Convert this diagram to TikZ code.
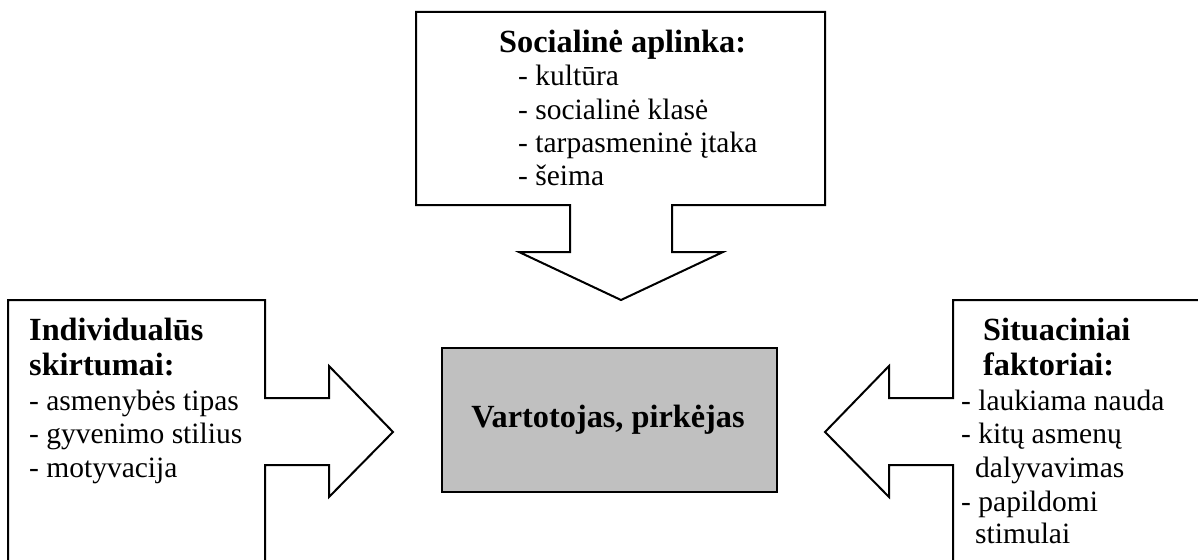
\documentclass[tikz,border=0pt]{standalone}
\usepackage{fontspec}
\setmainfont{Liberation Serif}
\begin{document}
\begin{tikzpicture}[x=1pt,y=-1pt,
  outline/.style={draw=black,line width=2pt,line join=miter},
  head/.style={font=\fontsize{32.3}{35}\selectfont\bfseries,anchor=base west,inner sep=0pt},
  item/.style={font=\fontsize{29.5}{33}\selectfont,anchor=base west,inner sep=0pt}]
\useasboundingbox (0,0) rectangle (1198,559);
\clip (0,0) rectangle (1198,559);

% top callout: social environment, arrow pointing down
\draw[outline] (416,12) -- (825,12) -- (825,205) -- (672,205) -- (672,252)
  -- (723,252) -- (621,300) -- (519,252) -- (570,252) -- (570,205)
  -- (416,205) -- cycle;
\node[head] (soc) at (499,53) {Socialinė aplinka:};
\node[item] (s1) at (518,86) {- kultūra};
\node[item] (s2) at (518,119) {- socialinė klasė};
\node[item] (s3) at (518,152) {- tarpasmeninė įtaka};
\node[item] (s4) at (518,185) {- šeima};

% left callout: individual differences, arrow pointing right
\draw[outline] (8,580) -- (8,300) -- (265,300) -- (265,398) -- (329,398)
  -- (329,366) -- (393,432) -- (329,497) -- (329,465) -- (265,465) -- (265,580);
\node[head] (ind1) at (29,340) {Individualūs};
\node[head] (ind2) at (29,375) {skirtumai:};
\node[item] (i1) at (29,410) {- asmenybės tipas};
\node[item] (i2) at (29,443) {- gyvenimo stilius};
\node[item] (i3) at (29,477) {- motyvacija};

% right callout: situational factors, arrow pointing left
\draw[outline] (1210,300) -- (953,300) -- (953,398) -- (889,398)
  -- (889,366) -- (825,432) -- (889,497) -- (889,465) -- (953,465) -- (953,580);
\node[head] (sit1) at (983,340) {Situaciniai};
\node[head] (sit2) at (983,375) {faktoriai:};
\node[item] (f1) at (961,410) {- laukiama nauda};
\node[item] (f2) at (961,443) {- kitų asmenų};
\node[item] (f3) at (975,477) {dalyvavimas};
\node[item] (f4) at (961,511) {- papildomi};
\node[item] (f5) at (975,543) {stimulai};

% central box: consumer
\draw[outline,fill={rgb,255:red,192;green,192;blue,192}] (442,348) rectangle (777,492);
\node[head,anchor=base] (cons) at (608,427) {Vartotojas, pirkėjas};
\end{tikzpicture}
\end{document}
